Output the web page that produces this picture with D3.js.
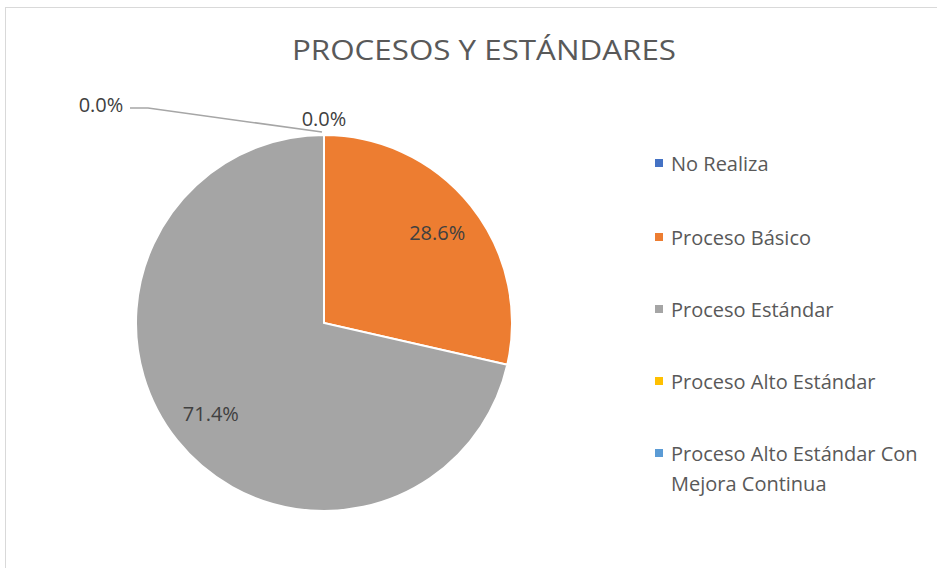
<!DOCTYPE html>
<html>
<head>
<meta charset="utf-8">
<script src="https://cdn.jsdelivr.net/npm/d3@7"></script>
<style>
  body { margin: 0; background: #fff; }
  text { font-family: "Open Sans", "Noto Sans", sans-serif; }
</style>
</head>
<body>
<div id="chart"></div>
<script>
// data
const categories = ["No Realiza", "Proceso Básico", "Proceso Estándar", "Proceso Alto Estándar", "Proceso Alto Estándar Con Mejora Continua"];
const counts = [0, 2, 5, 0, 0];
const colors = ["#4472C4", "#ED7D31", "#A5A5A5", "#FFC000", "#5B9BD5"];

const width = 937, height = 568;
const cx = 324, cy = 323, radius = 188;

const svg = d3.select("#chart")
  .append("svg")
  .attr("width", width)
  .attr("height", height);

// chart frame
svg.append("rect")
  .attr("x", 5.5).attr("y", 7.5)
  .attr("width", width + 10).attr("height", height + 10)
  .attr("fill", "#fff")
  .attr("stroke", "#d9d9d9");

svg.append("text")
  .attr("x", 484).attr("y", 60)
  .attr("text-anchor", "middle")
  .attr("font-size", "28px")
  .attr("textLength", 384)
  .attr("lengthAdjust", "spacingAndGlyphs")
  .attr("fill", "#595959")
  .text("PROCESOS Y ESTÁNDARES");

const total = d3.sum(counts);
const pie = d3.pie().sort(null).value(d => d);
const arcs = pie(counts);
const arc = d3.arc().innerRadius(0).outerRadius(radius);

const g = svg.append("g").attr("transform", `translate(${cx},${cy})`);

g.selectAll("path")
  .data(arcs)
  .enter()
  .append("path")
  .attr("d", arc)
  .attr("fill", (d, i) => colors[i])
  .attr("stroke", "#fff")
  .attr("stroke-width", 2);

const fmt = v => (v / total * 100).toFixed(1) + "%";

const labelRatio = 0.77;

arcs.forEach((d, i) => {
  let x, y;
  if (d.value > 0) {
    const c = d3.arc().innerRadius(radius * labelRatio).outerRadius(radius * labelRatio).centroid(d);
    x = c[0]; y = c[1];
  } else if (i === 0) {
    x = -223; y = -219;
  } else if (i === 4) {
    x = 0; y = -205;
  } else {
    return;
  }
  if (i === 0) {
    // leader line
    const a = d.startAngle;
    const px = Math.sin(a) * radius, py = -Math.cos(a) * radius;
    g.append("polyline")
      .attr("points", [[-194, -215], [-176, -215], [px - 2, py - 3]].map(p => p.join(",")).join(" "))
      .attr("fill", "none")
      .attr("stroke", "#a6a6a6")
      .attr("stroke-width", 1.5);
  }
  g.append("text")
    .attr("x", x).attr("y", y)
    .attr("text-anchor", "middle")
    .attr("dominant-baseline", "central")
    .attr("font-size", "20px")
    .attr("fill", "#404040")
    .text(fmt(d.value));
});

// legend
const legendY = [163, 237, 309, 381, 453];
const legend = svg.append("g");
categories.forEach((name, i) => {
  legend.append("rect")
    .attr("x", 655).attr("y", legendY[i] - 4)
    .attr("width", 8).attr("height", 8)
    .attr("fill", colors[i]);
  const words = name === "Proceso Alto Estándar Con Mejora Continua"
    ? ["Proceso Alto Estándar Con", "Mejora Continua"] : [name];
  const t = legend.append("text")
    .attr("x", 671).attr("y", legendY[i])
    .attr("font-size", "20px")
    .attr("fill", "#595959")
    .attr("dominant-baseline", "central");
  words.forEach((w, k) => {
    t.append("tspan").attr("x", 671).attr("dy", k === 0 ? 0 : 30).text(w);
  });
});
</script>
</body>
</html>
